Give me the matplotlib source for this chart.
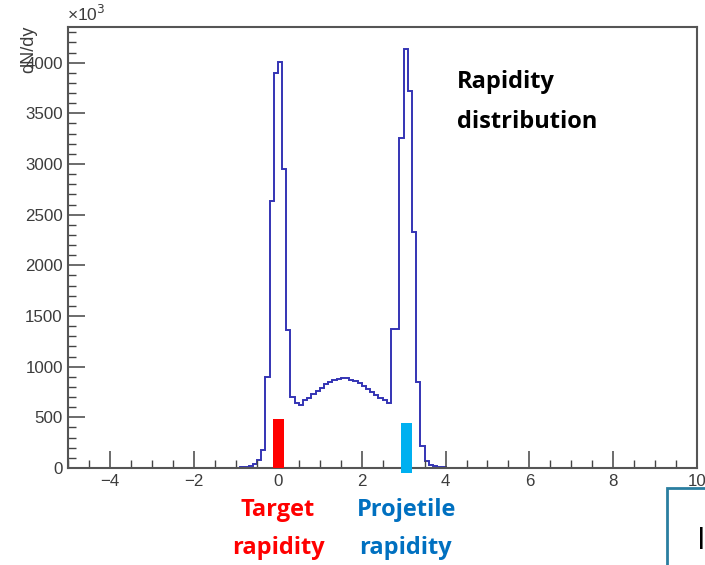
import numpy as np
import matplotlib
matplotlib.use("Agg")
import matplotlib.pyplot as plt
from matplotlib.patches import Rectangle

plt.rcParams["font.family"] = ["Liberation Sans", "DejaVu Sans"]

# histogram: 150 bins from -5 to 10, only bins from -1.0 to 4.1 are filled
x_min, x_max, n_bins = -5.0, 10.0, 150
first_bin = -1.0
counts = [3, 5, 10, 22, 40, 75, 180, 900, 2635, 3900,
          4010, 2950, 1360, 700, 645, 625, 672, 695, 726, 760,
          793, 829, 845, 866, 882, 890, 887, 873, 857, 835,
          805, 777, 748, 718, 690, 668, 640, 1370, 1375, 3256,
          4138, 3723, 2328, 846, 217, 72, 30, 15, 9, 5,
          3]

# coloured markers drawn on top (target / projectile rapidity)
marker_x = [0.02, 3.06]
marker_h = [480, 447]
marker_bottom = [0, -45]
marker_colors = ["#ff0000", "#00b0f0"]

x_ticks = [-4, -2, 0, 2, 4, 6, 8, 10]
y_ticks = [0, 500, 1000, 1500, 2000, 2500, 3000, 3500, 4000]

edges = np.linspace(x_min, x_max, n_bins + 1)
values = np.zeros(n_bins)
start = int(round((first_bin - x_min) / 0.1))
values[start:start + len(counts)] = counts

fig = plt.figure(figsize=(7.05, 5.65), dpi=100)
ax = fig.add_axes([0.0969, 0.1717, 0.8918, 0.781])

ax.stairs(values, edges, color="#3434b4", linewidth=1.4)

for x, h, b, c in zip(marker_x, marker_h, marker_bottom, marker_colors):
    ax.bar(x, h - b, width=0.26, bottom=b, color=c, clip_on=False, zorder=5)

ax.set_xlim(x_min, x_max)
ax.set_ylim(0, 4355)
ax.set_xticks(x_ticks)
ax.set_xticklabels([str(t).replace("-", "\u2212") for t in x_ticks],
                   fontsize=12.2, color="#3c3c3c")
ax.set_xticks(np.arange(-5, 10.01, 0.5), minor=True)
ax.set_yticks(y_ticks)
ax.set_yticklabels([str(t) for t in y_ticks], fontsize=12.2, color="#3c3c3c")
ax.set_yticks(np.arange(0, 4301, 100), minor=True)

for spine in ax.spines.values():
    spine.set_color("#555555")
    spine.set_linewidth(1.5)

ax.tick_params(which="major", direction="in", length=12, width=1.1,
               color="#444444", pad=4)
ax.tick_params(which="minor", direction="in", length=6, width=1.0,
               color="#444444")

ax.text(-0.002, 1.006, "\u00d710$^{3}$", transform=ax.transAxes,
        fontsize=12.5, color="#3c3c3c", ha="left", va="bottom")
fig.text(29 / 705, 1 - 49 / 565, "dN/dy", rotation=90, fontsize=13,
         color="#3c3c3c", ha="center", va="center")

bold = dict(fontsize=17, fontweight="bold", family="Open Sans")
fig.text(457 / 705, 1 - 82 / 565, "Rapidity", color="black",
         ha="left", va="center", **bold)
fig.text(457 / 705, 1 - 122 / 565, "distribution", color="black",
         ha="left", va="center", **bold)

fig.text(278 / 705, 1 - 510 / 565, "Target", color="#ff0000",
         ha="center", va="center", **bold)
fig.text(278 / 705, 1 - 548 / 565, "rapidity", color="#ff0000",
         ha="center", va="center", **bold)
fig.text(407 / 705, 1 - 510 / 565, "Projetile", color="#0070c0",
         ha="center", va="center", **bold)
fig.text(405 / 705, 1 - 548 / 565, "rapidity", color="#0070c0",
         ha="center", va="center", **bold)

# partial box cut by the right edge
fig.patches.append(Rectangle((667 / 705, -0.05), 0.2, 0.05 + (565 - 488) / 565,
                             transform=fig.transFigure, fill=False,
                             edgecolor="#2a7ea0", linewidth=2))
fig.text(697 / 705, 1 - 541 / 565, "I", fontsize=22, family="Open Sans",
         color="black", ha="left", va="center")

fig.savefig("out.png", dpi=100)
